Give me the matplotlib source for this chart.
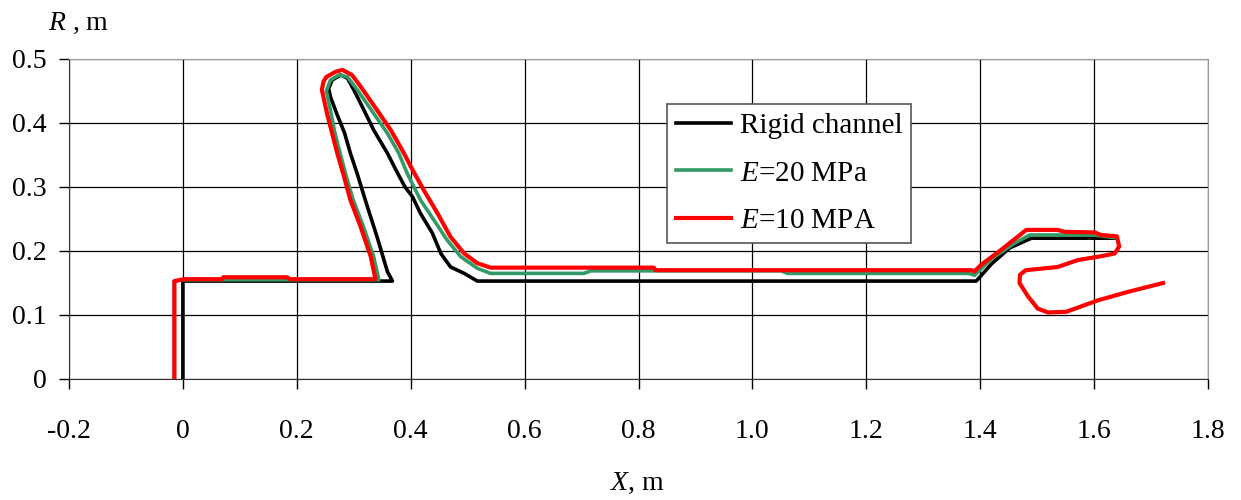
import matplotlib
matplotlib.use('Agg')
import matplotlib.pyplot as plt
from matplotlib.ticker import FixedLocator, FixedFormatter

plt.rcParams['font.family'] = ['Liberation Serif', 'DejaVu Serif']
plt.rcParams['mathtext.fontset'] = 'custom'
plt.rcParams['mathtext.rm'] = 'Liberation Serif'
plt.rcParams['mathtext.it'] = 'Liberation Serif:italic'
plt.rcParams['axes.unicode_minus'] = False

# free surface profiles, X and R in metres
rigid_x = [0.0, 0.0, 0.368, 0.359, 0.341, 0.324, 0.306, 0.294, 0.284, 0.270,
           0.259, 0.256, 0.262, 0.277, 0.289, 0.300, 0.318, 0.335, 0.359,
           0.375, 0.390, 0.403, 0.417, 0.438, 0.453, 0.470, 0.494, 0.517,
           1.393, 1.420, 1.452, 1.490, 1.635]
rigid_r = [0.0, 0.153, 0.153, 0.168, 0.222, 0.269, 0.321, 0.353, 0.384, 0.415,
           0.441, 0.454, 0.467, 0.475, 0.470, 0.452, 0.420, 0.389, 0.353,
           0.325, 0.300, 0.285, 0.259, 0.228, 0.196, 0.175, 0.165, 0.153,
           0.153, 0.180, 0.205, 0.220, 0.220]

e20_x = [-0.015, -0.015, 0.0, 0.344, 0.335, 0.317, 0.299, 0.287, 0.276, 0.267,
         0.259, 0.252, 0.259, 0.274, 0.289, 0.306, 0.335, 0.359, 0.379, 0.394,
         0.417, 0.441, 0.464, 0.488, 0.517, 0.540, 0.704, 0.716, 1.050, 1.062,
         1.380, 1.390, 1.420, 1.460, 1.487, 1.600, 1.635]
e20_r = [0.0, 0.153, 0.155, 0.155, 0.191, 0.238, 0.280, 0.316, 0.353, 0.384,
         0.420, 0.450, 0.467, 0.475, 0.472, 0.452, 0.415, 0.384, 0.353, 0.321,
         0.280, 0.248, 0.217, 0.191, 0.173, 0.165, 0.165, 0.169, 0.169, 0.165,
         0.165, 0.162, 0.188, 0.212, 0.225, 0.225, 0.221]

e10_x = [-0.015, -0.015, 0.002, 0.068, 0.071, 0.183, 0.188, 0.338, 0.330,
         0.312, 0.294, 0.283, 0.271, 0.262, 0.253, 0.244, 0.247, 0.252, 0.268,
         0.280, 0.297, 0.312, 0.341, 0.365, 0.388, 0.400, 0.423, 0.447, 0.470,
         0.494, 0.517, 0.540, 0.827, 0.830, 1.384, 1.390, 1.401, 1.437, 1.481,
         1.536, 1.548, 1.601, 1.612, 1.640, 1.644, 1.636, 1.607, 1.572, 1.536,
         1.480, 1.470, 1.469, 1.484, 1.501, 1.519, 1.551, 1.607, 1.659, 1.721]
e10_r = [0.0, 0.153, 0.156, 0.156, 0.159, 0.159, 0.156, 0.156, 0.191,
         0.238, 0.280, 0.316, 0.353, 0.384, 0.415, 0.452, 0.465, 0.472, 0.480,
         0.483, 0.475, 0.457, 0.420, 0.389, 0.353, 0.332, 0.295, 0.259, 0.222,
         0.196, 0.181, 0.174, 0.174, 0.170, 0.170, 0.168, 0.178, 0.202, 0.233,
         0.233, 0.230, 0.229, 0.225, 0.223, 0.207, 0.196, 0.191, 0.186, 0.175,
         0.170, 0.163, 0.150, 0.129, 0.110, 0.104, 0.105, 0.123, 0.136, 0.150]

x_ticks = [-0.2, 0.0, 0.2, 0.4, 0.6, 0.8, 1.0, 1.2, 1.4, 1.6, 1.8]
x_labels = ['-0.2', '0', '0.2', '0.4', '0.6', '0.8', '1.0', '1.2', '1.4', '1.6', '1.8']
r_ticks = [0.0, 0.1, 0.2, 0.3, 0.4, 0.5]
r_labels = ['0', '0.1', '0.2', '0.3', '0.4', '0.5']

fig = plt.figure(figsize=(12.41, 5.0), dpi=100)
ax = fig.add_axes([69 / 1241, 1 - 379 / 500, (1208 - 69) / 1241, 320 / 500])

ax.plot(rigid_x, rigid_r, color='black', lw=2.6, label='Rigid channel', zorder=3)
ax.plot(e20_x, e20_r, color='#339966', lw=2.6, label='$E$=20 MPa', zorder=4)
ax.plot(e10_x, e10_r, color='#ff0000', lw=3.0, label='$E$=10 MPA', zorder=5)

ax.set_xlim(-0.2, 1.8)
ax.set_ylim(0, 0.5)
ax.xaxis.set_major_locator(FixedLocator(x_ticks))
ax.xaxis.set_major_formatter(FixedFormatter(x_labels))
ax.yaxis.set_major_locator(FixedLocator(r_ticks))
ax.yaxis.set_major_formatter(FixedFormatter(r_labels))
ax.tick_params(direction='out', length=7, width=1, labelsize=20)
ax.tick_params(axis='x', pad=22)
ax.tick_params(axis='y', pad=9)
ax.grid(True, color='black', lw=0.9)
ax.set_axisbelow(True)
for side in ['left', 'bottom']:
    ax.spines[side].set_color('#333333')
for side in ['top', 'right']:
    ax.spines[side].set_color('#999999')

fig.text(48 / 1241, 1 - 23 / 500, '$R$ , m', fontsize=20, va='center', ha='left')
fig.text(638 / 1241, 1 - 483 / 500, '$X$, m', fontsize=20, va='center', ha='center')

leg = ax.legend(loc='upper left', bbox_to_anchor=(667 / 1241, 1 - 104 / 500),
                bbox_transform=fig.transFigure, fontsize=21, frameon=True,
                fancybox=False, handlelength=1.9, handletextpad=0.3,
                labelspacing=0.72, borderpad=0.3, borderaxespad=0)
leg.get_frame().set_edgecolor('#555555')
leg.get_frame().set_linewidth(1.2)
leg.get_frame().set_alpha(1)

plt.savefig('out.png', dpi=100)
